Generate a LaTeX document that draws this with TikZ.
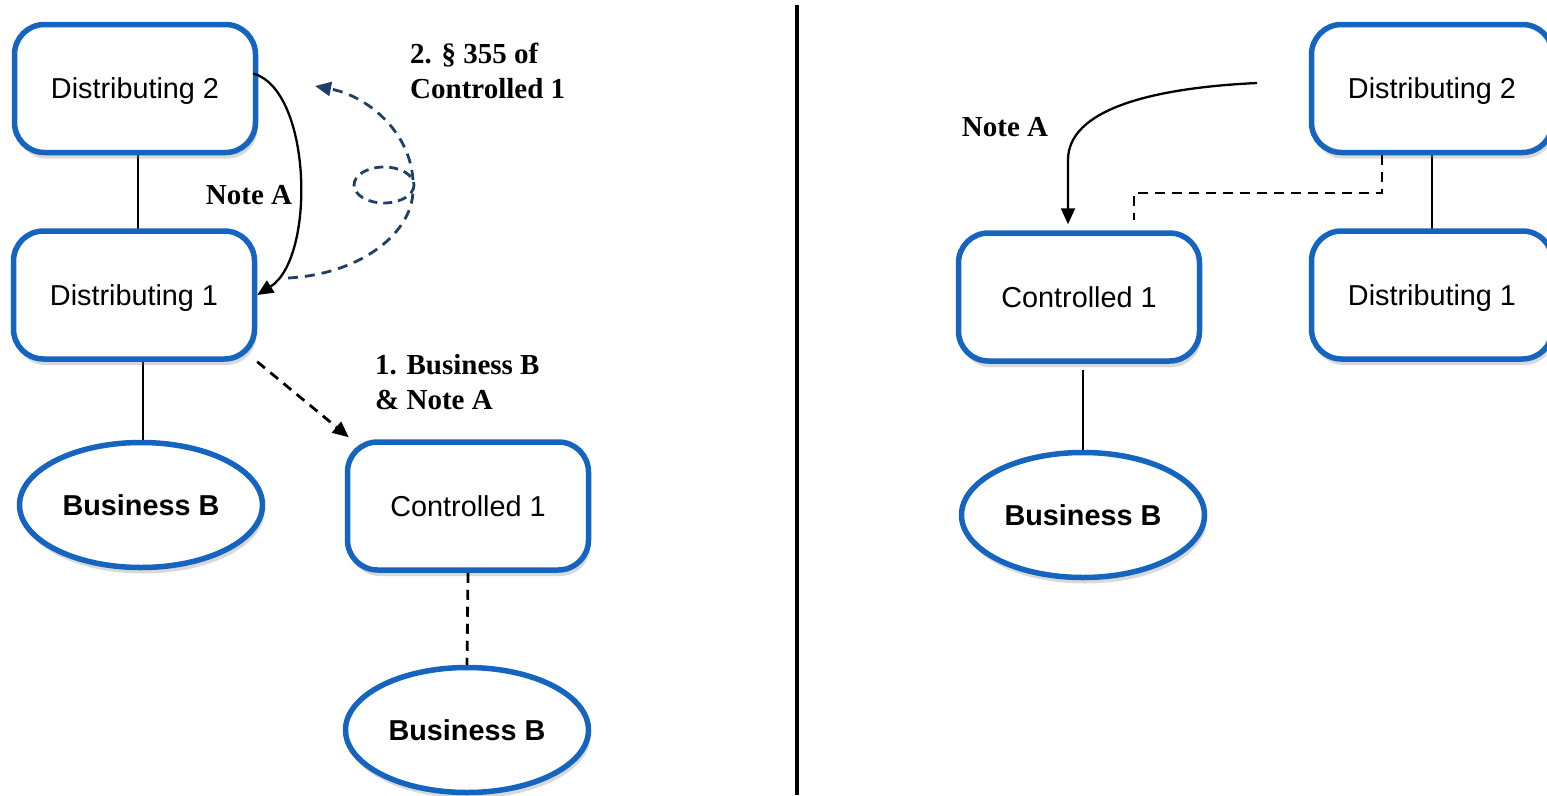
\documentclass[tikz,border=0pt]{standalone}
\usepackage{fontspec}
\setmainfont{Liberation Serif}
\newfontfamily\arialfont{Liberation Sans}
\usetikzlibrary{shapes.geometric,shadows,arrows.meta,calc}

\definecolor{boxblue}{RGB}{21,101,192}
\definecolor{navy}{RGB}{31,63,104}

\tikzset{
  entity/.style={rectangle, rounded corners=30pt, draw=boxblue, line width=5.5pt,
    fill=white, minimum width=241pt, minimum height=128pt, text depth=0pt,
    font=\arialfont\fontsize{28.8}{34}\selectfont,
    drop shadow={shadow xshift=2pt, shadow yshift=-6pt, opacity=0.3, fill=gray}},
  biz/.style={ellipse, draw=boxblue, line width=5.5pt, fill=white,
    minimum width=243pt, minimum height=125pt, inner sep=0pt,
    font=\arialfont\bfseries\fontsize{28.8}{34}\selectfont,
    drop shadow={shadow xshift=2pt, shadow yshift=-6pt, opacity=0.3, fill=gray}},
  link/.style={line width=2.3pt, black},
  dlink/.style={line width=2.8pt, black, dash pattern=on 10pt off 7pt},
  tip/.style={-{Triangle[length=16pt,width=14pt]}},
  note/.style={font=\bfseries\fontsize{29}{35}\selectfont, align=left, inner sep=0pt},
}

\begin{document}
\begin{tikzpicture}[x=1pt, y=-1pt]
\useasboundingbox (0,0) rectangle (1547,795);

% ---------- left structure ----------
\draw[link] (138,150) coordinate (l1a) -- (138,235) coordinate (l1b);
\draw[link] (143,355) coordinate (l2a) -- (143,445) coordinate (l2b);

\node[entity] (D2) at (135,88.5) {Distributing 2};
\node[entity] (D1) at (134,295) {Distributing 1};
\node[biz] (BBa) at (141,505) {Business B};
\node[entity] (C1) at (468,506) {Controlled 1};
\node[biz] (BBb) at (467,730) {Business B};

\draw[dlink] (C1.south) -- (BBb.north);
\draw[dlink, tip] (D1.south east) -- ($(C1.north west)+(4,-2)$);

% Note A arc from Distributing 2 to Distributing 1
\draw[link, tip] ($(D2.east)+(-5,-15)$) .. controls (312,90) and (316,258) .. (D1.east);
\node[note] (noteL) at (249,195) {Note A};

% dashed looping path of the second step
\coordinate (loopStart) at (288,278);
\coordinate (loopEnd) at (315,86);
\draw[navy, line width=2.8pt, dash pattern=on 10pt off 7pt]
  (loopStart) .. controls (362,274) and (413,232) .. (413,190);
\draw[navy, line width=2.8pt, dash pattern=on 9pt off 6pt]
  (384,185) ellipse [x radius=30, y radius=18];
\draw[navy, line width=2.8pt, dash pattern=on 10pt off 7pt, tip]
  (413,180) .. controls (410,132) and (368,96) .. (loopEnd);

\node[note, anchor=west] (step2) at (410,70.5) {2. § 355 of\\Controlled 1};
\node[note, anchor=west] (step1) at (375,382.5) {1. Business B\\\& Note A};

% ---------- divider ----------
\draw[line width=4pt] (797,5) coordinate (divTop) -- (797,795) coordinate (divBot);

% ---------- right structure ----------
\draw[link] (1432,150) coordinate (r1a) -- (1432,235) coordinate (r1b);
\draw[link] (1083,370) coordinate (r2a) -- (1083,455) coordinate (r2b);

\node[entity] (RD2) at (1432,88.5) {Distributing 2};
\node[entity] (RD1) at (1432,295) {Distributing 1};
\node[entity] (RC1) at (1079,297) {Controlled 1};
\node[biz] (RBB) at (1083,515) {Business B};

\draw[dlink] ($(RD2.south)+(-50,0)$) |- (1134,193) -- ($(RC1.north)+(55,-10)$);

\coordinate (noteRStart) at (1257,83);
\draw[link, tip] (noteRStart) .. controls (1150,88) and (1068,110) .. (1068,160)
  -- ($(RC1.north)+(-11,-6)$);
\node[note] (noteR) at (1005,127) {Note A};
\end{tikzpicture}
\end{document}
